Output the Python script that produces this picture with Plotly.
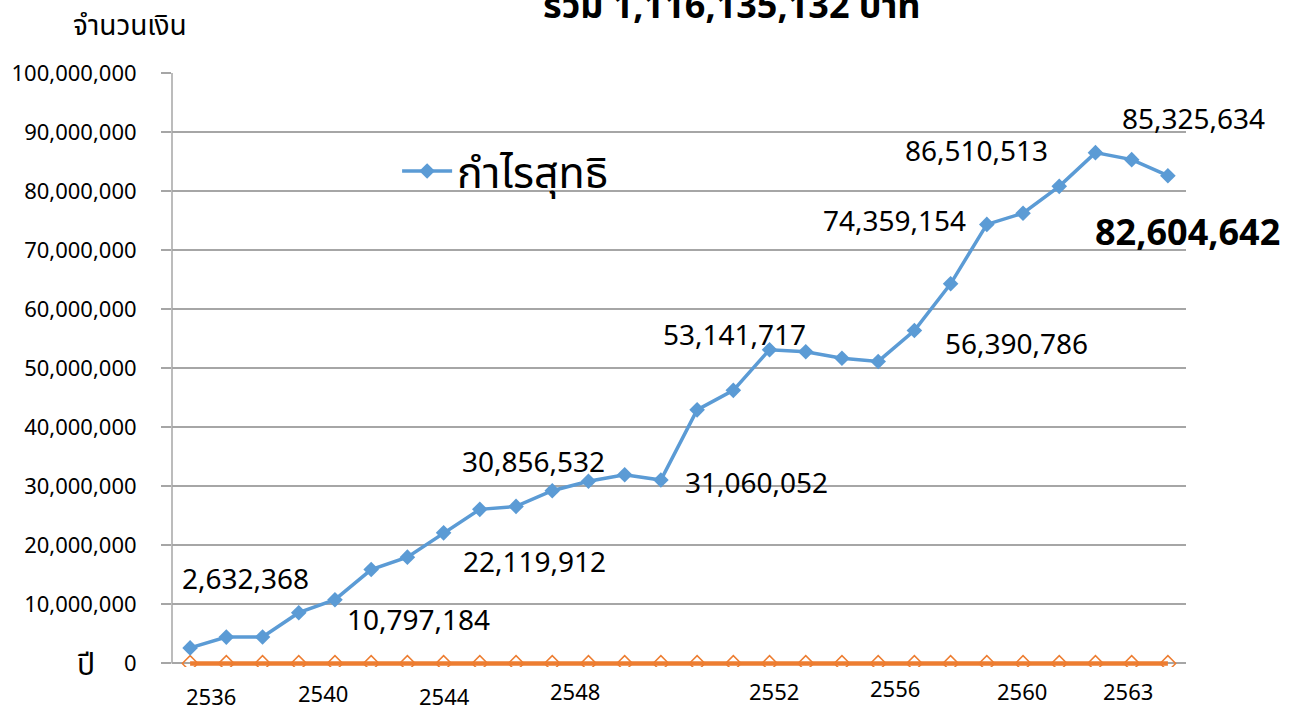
import plotly.graph_objects as go

years = list(range(2536, 2564))
net_profit = [2632368, 4460000, 4470000, 8600000, 10797184, 15900000, 18000000,
              22119912, 26100000, 26600000, 29250000, 30856532, 31950000, 31060052,
              42950000, 46250000, 53141717, 52800000, 51700000, 51150000, 56390786,
              64300000, 74359154, 76250000, 80800000, 86510513, 85325634, 82604642]
second_series = [0] * len(years)

series_name = "กำไรสุทธิ"
title_text = "รวม 1,116,135,132 บาท"
y_title = "จำนวนเงิน"
x_title = "ปี"

# labelled years: (year, xshift, yshift, bold)
labelled = [(2536, 55, 70, False), (2540, 84, -19, False), (2543, 91, -28, False),
            (2547, -55, 20, False), (2549, 96, -2, False), (2552, -35, 16, False),
            (2556, 102, -13, False), (2558, -92, 4, False), (2561, -119, 3, False),
            (2562, 62, 42, False), (2563, 20, -56, True)]

year_ticks = [2536, 2540, 2544, 2548, 2552, 2556, 2560, 2563]
year_tick_shift = [(21, -33), (-12, -30), (-35, -33), (-50, -28), (4, -28),
                   (-19, -25), (-37, -28), (-40, -28)]

FONT = "Noto Sans, Noto Sans Thai, sans-serif"
BLUE = "#5B9BD5"
ORANGE = "#ED7D31"
GRID = "#A6A6A6"
Y_MAX = 100_000_000
Y_PAD = 600_000  # keeps the zero line unclipped

fig = go.Figure()
fig.add_trace(go.Scatter(
    x=years, y=second_series, mode="lines+markers", showlegend=False,
    line=dict(color=ORANGE, width=4.5),
    marker=dict(symbol="diamond-open", size=12, color=ORANGE, line=dict(width=1.5)),
))
fig.add_trace(go.Scatter(
    x=years, y=net_profit, mode="lines+markers", name=series_name,
    line=dict(color=BLUE, width=3.5),
    marker=dict(symbol="diamond", size=12, color=BLUE),
))

annotations = []
for yr, dx, dy, bold in labelled:
    v = net_profit[years.index(yr)]
    txt = f"{v:,}"
    annotations.append(dict(
        x=yr, y=v, xref="x", yref="y", text=f"<b>{txt}</b>" if bold else txt,
        showarrow=False, xshift=dx, yshift=dy, xanchor="center", yanchor="middle",
        font=dict(family=FONT, size=36 if bold else 28, color="#000000")))

for yr, (dx, dy) in zip(year_ticks, year_tick_shift):
    annotations.append(dict(
        x=yr, y=0, xref="x", yref="y", text=str(yr),
        showarrow=False, xshift=dx, yshift=dy, xanchor="center", yanchor="middle",
        font=dict(family=FONT, size=22, color="#000000")))

annotations.append(dict(
    x=0.552, y=1.071, xref="paper", yref="paper", text=f"<b>{title_text}</b>",
    showarrow=False, xanchor="center", yanchor="bottom",
    font=dict(family=FONT, size=36, color="#000000")))
annotations.append(dict(
    x=-0.041, y=1.083, xref="paper", yref="paper", text=y_title,
    showarrow=False, xanchor="center", yanchor="middle",
    font=dict(family=FONT, size=28, color="#000000")))
annotations.append(dict(
    x=2535.5, y=0, xref="x", yref="y", text=x_title, xshift=-86,
    showarrow=False, xanchor="center", yanchor="middle",
    font=dict(family=FONT, size=30, color="#000000")))

fig.update_layout(
    width=1300, height=709,
    margin=dict(l=172, r=114, t=73, b=42),
    paper_bgcolor="white", plot_bgcolor="white",
    font=dict(family=FONT, color="#000000"),
    showlegend=True,
    legend=dict(x=0.222, y=0.835, xanchor="left", yanchor="middle",
                font=dict(family=FONT, size=43, color="#000000"),
                bgcolor="rgba(0,0,0,0)", itemwidth=50),
    annotations=annotations,
)
fig.update_xaxes(range=[2535.5, 2563.5], showticklabels=False, showgrid=False,
                 zeroline=False, showline=False, ticks="")
fig.update_yaxes(range=[-Y_PAD, Y_MAX], tickvals=list(range(0, Y_MAX + 1, 10_000_000)),
                 tickformat=",",
                 showgrid=True, gridcolor=GRID, gridwidth=1.5,
                 zeroline=True, zerolinecolor=GRID, zerolinewidth=1.5,
                 showline=False,
                 ticks="outside", ticklen=10, tickcolor=GRID, tickwidth=1.5,
                 ticklabelstandoff=20,
                 tickfont=dict(family=FONT, size=22, color="#000000"))
# left axis line from 0 to the top
fig.add_shape(type="line", xref="x domain", yref="y", x0=0, x1=0, y0=0, y1=Y_MAX,
              line=dict(color=GRID, width=1.5), layer="below")

fig.write_html("out.html", config={"displayModeBar": False},
               post_script="document.body.style.margin='0';")
